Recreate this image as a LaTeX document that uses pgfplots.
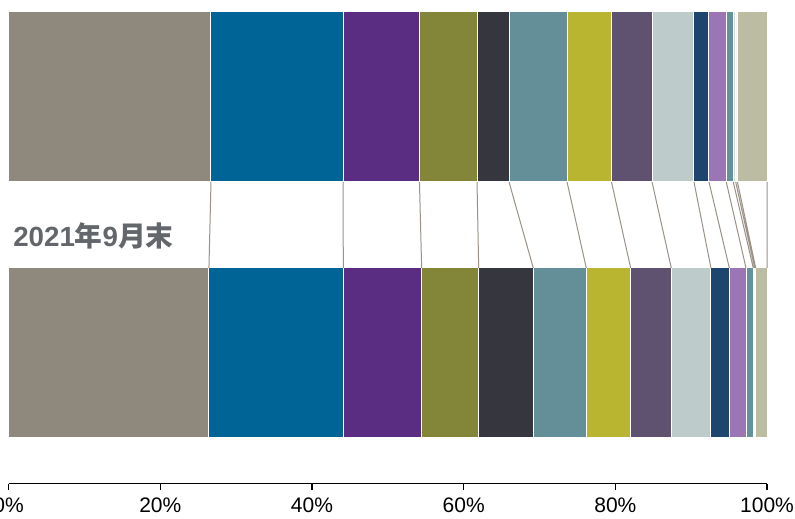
\documentclass[border=0pt]{standalone}
\usepackage{fontspec}
\setmainfont{Liberation Sans}
\newfontfamily\cjk{Noto Sans CJK SC}
\usepackage{pgfplots}
\pgfplotsset{compat=1.18}
\usepackage{pgfplotstable}

\definecolor{c01}{HTML}{8F887D}
\definecolor{c02}{HTML}{006496}
\definecolor{c03}{HTML}{5A2D82}
\definecolor{c04}{HTML}{838538}
\definecolor{c05}{HTML}{36363F}
\definecolor{c06}{HTML}{658F98}
\definecolor{c07}{HTML}{BAB530}
\definecolor{c08}{HTML}{5F5270}
\definecolor{c09}{HTML}{BDCBCB}
\definecolor{c10}{HTML}{1E456E}
\definecolor{c11}{HTML}{9C76B4}
\definecolor{c12}{HTML}{64919B}
\definecolor{c13}{HTML}{D3DCDC}
\definecolor{c14}{HTML}{F6F6F4}
\definecolor{c15}{HTML}{BBBCA2}
\definecolor{linkgray}{HTML}{9A9187}
\definecolor{labelgray}{HTML}{63666A}

% segment widths, top bar (y=1) and bottom bar (y=0), in percent
\pgfplotstableread{
y s01 s02 s03 s04 s05 s06 s07 s08 s09 s10 s11 s12 s13 s14 s15
1 26.68 17.41 10.08 7.59 4.22 7.65 5.86 5.35 5.53 1.98 2.28 0.92 0.32 0.23 3.90
0 26.41 17.72 10.33 7.52 7.20 6.99 5.85 5.36 5.23 2.42 2.20 0.96 0.19 0.13 1.49
}\shares

\begin{document}
\begin{tikzpicture}
\pgfplotsset{
  frame/.style={scale only axis, width=568.7pt, height=353.6pt,
    xmin=0, xmax=100, ymin=-0.51, ymax=1.332, clip=false},
  seg/.style={fill=#1, draw=white, line width=0.75pt}
}
\begin{axis}[frame, name=main,
    xbar stacked, bar width=0.664,
    hide y axis, axis x line*=bottom,
    xtick={0,20,...,100}, tick align=outside, major tick length=4.5pt,
    x axis line style={line width=1.1pt, black},
    xtick style={line width=1.1pt, black},
    /pgf/number format/assume math mode=true,
    xticklabel={\pgfmathprintnumber{\tick}\%},
    x tick label style={font=\fontsize{15.75}{18}\selectfont, yshift=-3pt}]
\addplot[seg=c01] table[x=s01,y=y]{\shares};
\addplot[seg=c02] table[x=s02,y=y]{\shares};
\addplot[seg=c03] table[x=s03,y=y]{\shares};
\addplot[seg=c04] table[x=s04,y=y]{\shares};
\addplot[seg=c05] table[x=s05,y=y]{\shares};
\addplot[seg=c06] table[x=s06,y=y]{\shares};
\addplot[seg=c07] table[x=s07,y=y]{\shares};
\addplot[seg=c08] table[x=s08,y=y]{\shares};
\addplot[seg=c09] table[x=s09,y=y]{\shares};
\addplot[seg=c10] table[x=s10,y=y]{\shares};
\addplot[seg=c11] table[x=s11,y=y]{\shares};
\addplot[seg=c12] table[x=s12,y=y]{\shares};
\addplot[seg=c13] table[x=s13,y=y]{\shares};
\addplot[seg=c14] table[x=s14,y=y]{\shares};
\addplot[seg=c15] table[x=s15,y=y]{\shares};
\end{axis}

% links between the segment boundaries of the two bars
\begin{axis}[frame, hide axis]
\addplot[linkgray, line width=0.75pt, no marks, unbounded coords=jump] coordinates {
  (26.68,0.668) (26.41,0.332) (nan,nan)
  (44.09,0.668) (44.13,0.332) (nan,nan)
  (54.17,0.668) (54.46,0.332) (nan,nan)
  (61.76,0.668) (61.98,0.332) (nan,nan)
  (65.98,0.668) (69.18,0.332) (nan,nan)
  (73.63,0.668) (76.17,0.332) (nan,nan)
  (79.49,0.668) (82.02,0.332) (nan,nan)
  (84.84,0.668) (87.38,0.332) (nan,nan)
  (90.37,0.668) (92.61,0.332) (nan,nan)
  (92.35,0.668) (95.03,0.332) (nan,nan)
  (94.63,0.668) (97.23,0.332) (nan,nan)
  (95.55,0.668) (98.19,0.332) (nan,nan)
  (95.87,0.668) (98.38,0.332) (nan,nan)
  (96.10,0.668) (98.51,0.332) (nan,nan)
  (100,0.668) (100,0.332)
};
\node[anchor=west, inner sep=0pt, text=labelgray,
      font=\fontsize{20.8}{23}\selectfont\bfseries]
  at (axis cs:0.57,0.459) {2021{\cjk 年}9{\cjk 月末}};
\end{axis}

\pgfresetboundingbox
\path ([shift={(-6.5pt,-25.9pt)}]main.south west)
  rectangle ([shift={(21pt,9pt)}]main.north east);
\end{tikzpicture}
\end{document}
